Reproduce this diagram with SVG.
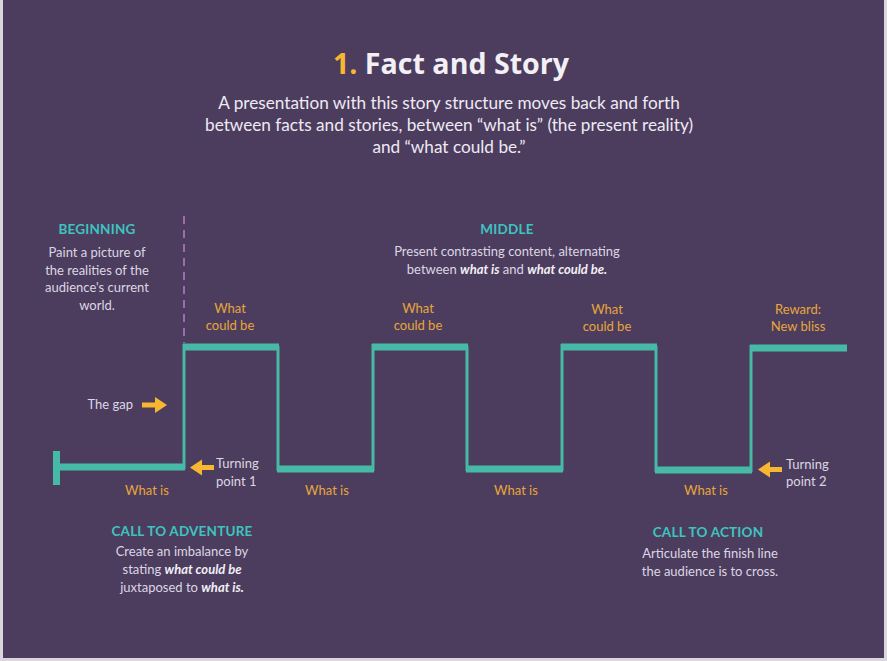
<svg xmlns="http://www.w3.org/2000/svg" width="887" height="661" viewBox="0 0 887 661">
<defs>
<style>
.body{font-family:Lato,"Open Sans","Liberation Sans",sans-serif;font-size:13px;fill:#dcd6e3;}
.head{font-family:Lato,"Open Sans","Liberation Sans",sans-serif;font-size:13.5px;font-weight:700;fill:#3ec4bf;letter-spacing:0.2px;}
.lab{font-family:Lato,"Open Sans","Liberation Sans",sans-serif;font-size:13px;fill:#e8a63a;}
.sub{font-family:Lato,"Open Sans","Liberation Sans",sans-serif;font-size:17.2px;fill:#eeeaf2;}
.bi{font-weight:700;font-style:italic;fill:#f2eff5;}
.flat{stroke:#47b9a7;stroke-width:7;fill:none;}
.rise{stroke:#47b9a7;stroke-width:3;fill:none;}
.arrow{fill:#f7b731;}
</style>
</defs>
<rect x="0" y="0" width="887" height="661" fill="#d9d6dc"/>
<rect x="3" y="0" width="881" height="658" fill="#4c3d5f"/>

<g id="title">
<text x="451" y="74" text-anchor="middle" font-family="'Open Sans','Liberation Sans',sans-serif" font-size="28.6" font-weight="700" fill="#f2f0f4"><tspan fill="#f7b731">1.</tspan> Fact and Story</text>
<text class="sub" x="449" y="109" text-anchor="middle">A presentation with this story structure moves back and forth</text>
<text class="sub" x="449" y="131" text-anchor="middle">between facts and stories, between “what is” (the present reality)</text>
<text class="sub" x="449" y="153" text-anchor="middle">and “what could be.”</text>
</g>

<g id="connectors">
<line x1="184" y1="216" x2="184" y2="343" stroke="#9a6fa8" stroke-width="2" stroke-dasharray="8,6"/>
<line x1="56.5" y1="451" x2="56.5" y2="485" stroke="#47b9a7" stroke-width="7"/>
<path class="flat" d="M56 467 H185"/>
<path class="rise" d="M184 469 V344"/>
<path class="flat" d="M183 347 H279"/>
<path class="rise" d="M278 346 V471"/>
<path class="flat" d="M277 469 H374"/>
<path class="rise" d="M373 471 V344"/>
<path class="flat" d="M372 347 H468"/>
<path class="rise" d="M467 346 V471"/>
<path class="flat" d="M466 469 H563"/>
<path class="rise" d="M562 471 V344"/>
<path class="flat" d="M561 347 H657"/>
<path class="rise" d="M656 346 V472"/>
<path class="flat" d="M655 470 H752"/>
<path class="rise" d="M751 472 V345"/>
<path class="flat" d="M750 348 H847"/>
</g>

<g id="beginning">
<text class="head" x="97" y="234" text-anchor="middle">BEGINNING</text>
<text class="body" x="97" y="257" text-anchor="middle">Paint a picture of</text>
<text class="body" x="97" y="275" text-anchor="middle">the realities of the</text>
<text class="body" x="97" y="292" text-anchor="middle">audience's current</text>
<text class="body" x="97" y="310" text-anchor="middle">world.</text>
</g>

<g id="middle">
<text class="head" x="507" y="234" text-anchor="middle">MIDDLE</text>
<text class="body" x="507" y="256" text-anchor="middle">Present contrasting content, alternating</text>
<text class="body" x="507" y="274" text-anchor="middle">between <tspan class="bi">what is</tspan> and <tspan class="bi">what could be.</tspan></text>
</g>

<g id="could1">
<text class="lab" x="230" y="313" text-anchor="middle">What</text>
<text class="lab" x="230" y="330" text-anchor="middle">could be</text>
</g>
<g id="could2">
<text class="lab" x="418" y="313" text-anchor="middle">What</text>
<text class="lab" x="418" y="330" text-anchor="middle">could be</text>
</g>
<g id="could3">
<text class="lab" x="607" y="314" text-anchor="middle">What</text>
<text class="lab" x="607" y="331" text-anchor="middle">could be</text>
</g>
<g id="reward">
<text class="lab" x="798" y="314" text-anchor="middle">Reward:</text>
<text class="lab" x="798" y="331" text-anchor="middle">New bliss</text>
</g>

<g id="gap">
<text class="body" x="133" y="409" text-anchor="end">The gap</text>
<path class="arrow" d="M142 402.5 H155 V397 L167 405 L155 413 V407.5 H142 Z"/>
</g>

<g id="turning1">
<path class="arrow" d="M214 465 H202 V459.5 L190 467.5 L202 475.5 V470 H214 Z"/>
<text class="body" x="216" y="468" font-size="13.5">Turning</text>
<text class="body" x="216" y="486" font-size="13.5">point 1</text>
</g>

<g id="turning2">
<path class="arrow" d="M782 467 H770 V461.5 L758 469.5 L770 477.5 V472 H782 Z"/>
<text class="body" x="786" y="469" font-size="13.5">Turning</text>
<text class="body" x="786" y="486" font-size="13.5">point 2</text>
</g>

<g id="whatis">
<text class="lab" x="147" y="495" text-anchor="middle">What is</text>
<text class="lab" x="327" y="495" text-anchor="middle">What is</text>
<text class="lab" x="516" y="495" text-anchor="middle">What is</text>
<text class="lab" x="706" y="495" text-anchor="middle">What is</text>
</g>

<g id="adventure">
<text class="head" x="182" y="536" text-anchor="middle">CALL TO ADVENTURE</text>
<text class="body" x="182" y="556" text-anchor="middle">Create an imbalance by</text>
<text class="body" x="182" y="574" text-anchor="middle">stating <tspan class="bi">what could be</tspan></text>
<text class="body" x="182" y="592" text-anchor="middle">juxtaposed to <tspan class="bi">what is.</tspan></text>
</g>

<g id="action">
<text class="head" x="708" y="537" text-anchor="middle">CALL TO ACTION</text>
<text class="body" x="710" y="558" text-anchor="middle">Articulate the finish line</text>
<text class="body" x="710" y="576" text-anchor="middle">the audience is to cross.</text>
</g>
</svg>
